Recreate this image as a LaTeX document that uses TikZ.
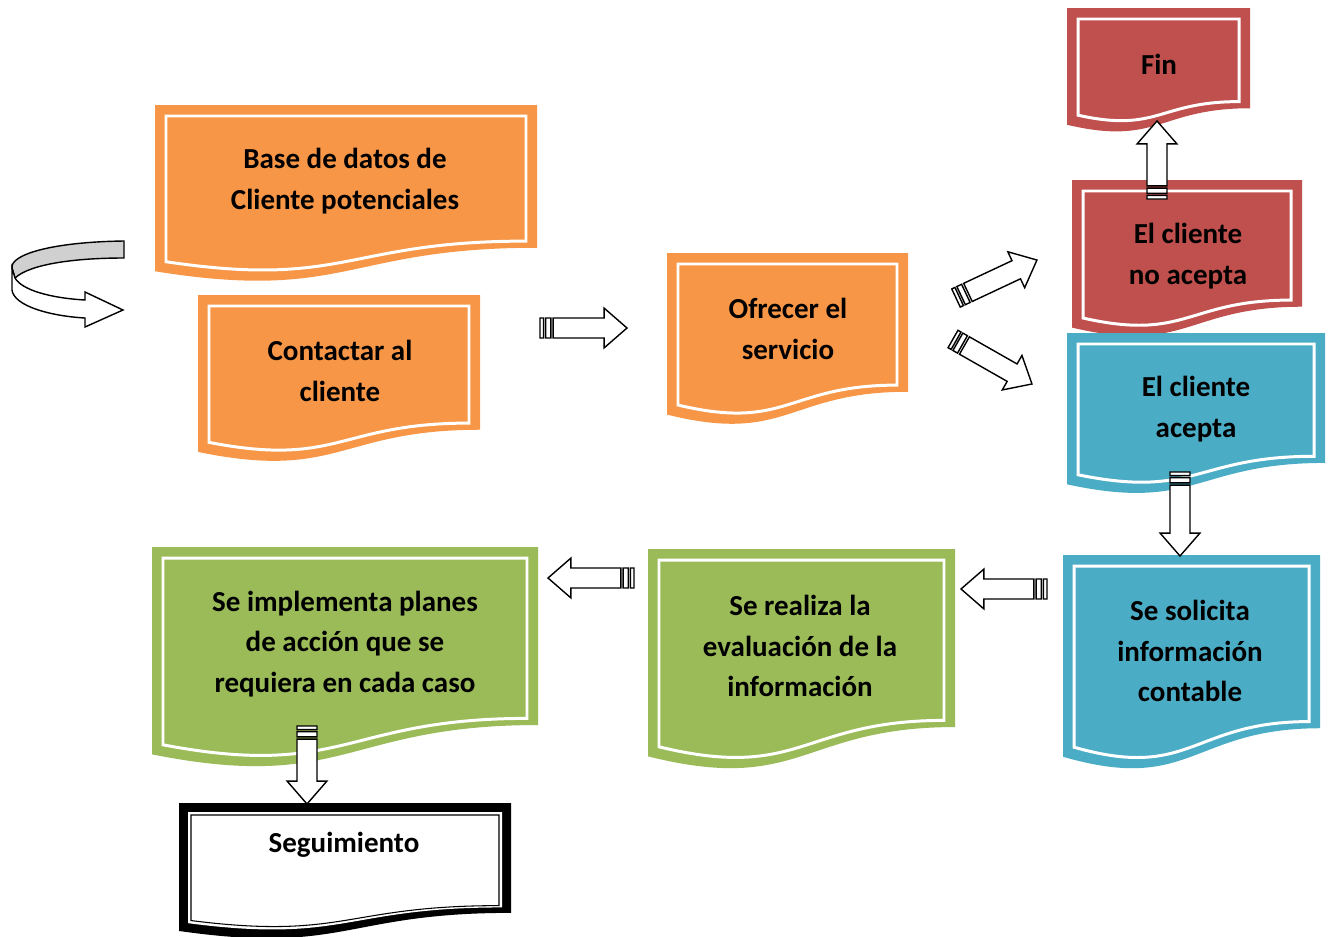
\documentclass[tikz,border=0pt]{standalone}
\usepackage{fontspec}
\setmainfont{Carlito}
\usetikzlibrary{calc}

\definecolor{docorange}{HTML}{F79646}
\definecolor{docred}{HTML}{C0504D}
\definecolor{docblue}{HTML}{4BACC6}
\definecolor{docgreen}{HTML}{9BBB59}
\definecolor{ribbongray}{HTML}{D0D0D0}

% x, y, width, height, inset, options
\newcommand{\docoutline}[6]{%
  \path[#6] ({#1+#5},{#2+#5}) -- ({#1+#3-#5},{#2+#5}) -- ({#1+#3-#5},{#2+#5+0.802*(#4-2*#5)})
    .. controls ({#1+0.5*#3},{#2+#5+0.802*(#4-2*#5)}) and ({#1+0.5*#3},{#2+#5+1.107*(#4-2*#5)})
    .. ({#1+#5},{#2+#5+0.934*(#4-2*#5)}) -- cycle;}
\newcommand{\docshape}[5]{%
  \docoutline{#1}{#2}{#3}{#4}{0}{fill=#5}
  \docoutline{#1}{#2}{#3}{#4}{11}{draw=white, line width=1.7pt}}
% striped block arrow from #1 to #2
\newcommand{\blockarrow}[2]{%
  \draw[blockarrow] let \p1 = ($(#2)-(#1)$), \n1 = {atan2(\y1,\x1)}, \n2 = {veclen(\x1,\y1)} in
    [shift={(#1)}, rotate=\n1]
    (7.5pt,-5.7pt) -- ({\n2*1pt-13pt},-5.7pt) -- ({\n2*1pt-13pt},-11.3pt) -- ({\n2*1pt},0pt)
    -- ({\n2*1pt-13pt},11.3pt) -- ({\n2*1pt-13pt},5.7pt) -- (7.5pt,5.7pt) -- cycle
    (0pt,-5.7pt) rectangle (2pt,5.7pt)
    (3.2pt,-5.7pt) rectangle (6.2pt,5.7pt);}

\begin{document}
\begin{tikzpicture}[x=0.02cm, y=-0.02cm,
  doctext/.style = {align=center, font=\fontsize{16.5}{23.2}\selectfont\bfseries},
  blockarrow/.style = {draw=black, fill=white, line width=0.8pt}]

\useasboundingbox (0,0) rectangle (1330,937);

% turning arrow
\draw[fill=ribbongray, line width=0.8pt] (124,241) .. controls (50,242) and (10,255) .. (12,268)
  -- (15,278) .. controls (30,264) and (75,258) .. (124,258) -- cycle;
\draw[fill=white, line width=0.8pt] (12,268) -- (12,290) .. controls (14,306) and (50,316) .. (85,318)
  -- (85,327) -- (123,310) -- (85,292) -- (85,300) .. controls (50,298) and (22,290) .. (15,278) -- cycle;

% documents
\docshape{155}{105}{382}{178}{docorange}
\docshape{198}{295}{282}{168}{docorange}
\docshape{667}{253}{241}{173}{docorange}
\docshape{1067}{8}{183}{125}{docred}
\docshape{1072}{180}{230}{158}{docred}
\docshape{1067}{333}{258}{162}{docblue}
\docshape{1063}{555}{257}{216}{docblue}
\docshape{648}{549}{307}{222}{docgreen}
\docshape{152}{547}{386}{222}{docgreen}
\docoutline{179}{803}{332}{137}{0}{fill=black}
\docoutline{179}{803}{332}{137}{9}{fill=white}
\docoutline{179}{803}{332}{137}{12}{draw=black, line width=0.6pt}

\node[doctext] (base) at (345,181) {Base de datos de\\Cliente potenciales};
\node[doctext] (contact) at (340,371) {Contactar al\\cliente};
\node[doctext] (offer) at (788,329) {Ofrecer el\\servicio};
\node[doctext] (end) at (1159,64) {Fin};
\node[doctext] (reject) at (1188,256) {El cliente\\no acepta};
\node[doctext] (accept) at (1196,409) {El cliente\\acepta};
\node[doctext] (request) at (1190,651) {Se solicita\\información\\contable};
\node[doctext] (evaluate) at (800,646) {Se realiza la\\evaluación de la\\información};
\node[doctext] (plans) at (345,644) {Se implementa planes\\de acción que se\\requiera en cada caso};
\node[doctext] (follow) at (344,845) {Seguimiento};

% arrow ends
\coordinate (contact-out) at (540,328);
\coordinate (offer-in) at (627,328);
\coordinate (offer-up) at (956,298);
\coordinate (reject-in) at (1037,260);
\coordinate (offer-down) at (953,339);
\coordinate (accept-in) at (1032,384);
\coordinate (reject-out) at (1157,199);
\coordinate (end-in) at (1157,121);
\coordinate (accept-out) at (1180,472);
\coordinate (request-in) at (1180,556);
\coordinate (request-out) at (1047,589);
\coordinate (evaluate-in) at (961,589);
\coordinate (evaluate-out) at (634,578);
\coordinate (plans-in) at (548,578);
\coordinate (plans-out) at (307,726);
\coordinate (follow-in) at (307,804);

\blockarrow{contact-out}{offer-in}
\blockarrow{offer-up}{reject-in}
\blockarrow{offer-down}{accept-in}
\blockarrow{reject-out}{end-in}
\blockarrow{accept-out}{request-in}
\blockarrow{request-out}{evaluate-in}
\blockarrow{evaluate-out}{plans-in}
\blockarrow{plans-out}{follow-in}

\end{tikzpicture}
\end{document}
